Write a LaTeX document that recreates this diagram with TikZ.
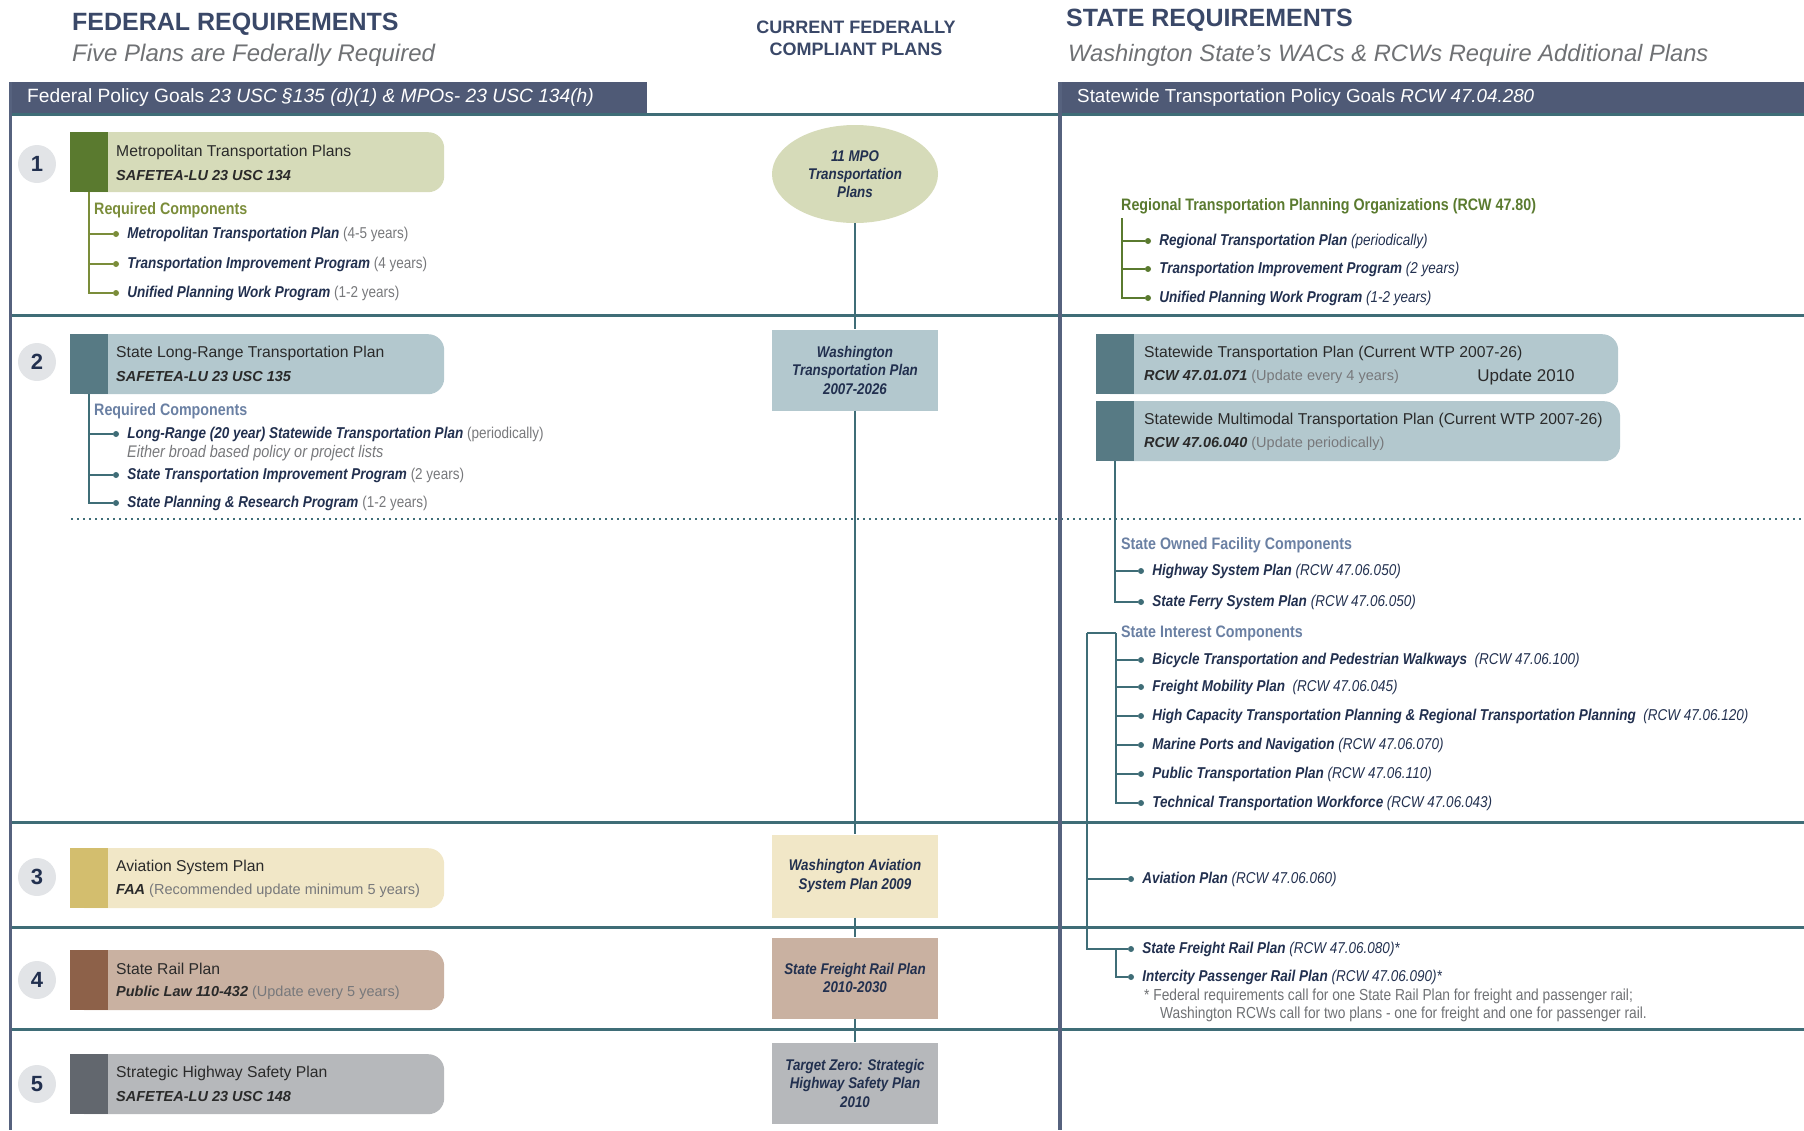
\documentclass[tikz,border=0pt]{standalone}
\usepackage{fontspec}
\setmainfont{Liberation Sans}
\newfontfamily\condfont[FakeStretch=0.86]{Liberation Sans}
\usepackage{tikz}
\usetikzlibrary{shapes.geometric,positioning}

\definecolor{navy}{HTML}{22304F}
\definecolor{titleblue}{HTML}{3A4868}
\definecolor{subgray}{HTML}{6F7174}
\definecolor{barslate}{HTML}{4F5A76}
\definecolor{lineslate}{HTML}{56627E}
\definecolor{rowteal}{HTML}{3F6D77}
\definecolor{compgreen}{HTML}{7B8D3A}
\definecolor{compblue}{HTML}{6A80A3}
\definecolor{mpostrip}{HTML}{5A7A2F}
\definecolor{mpofill}{HTML}{D6DBB9}
\definecolor{wtpstrip}{HTML}{577A84}
\definecolor{wtpfill}{HTML}{B3C8CE}
\definecolor{avistrip}{HTML}{D3BE6E}
\definecolor{avifill}{HTML}{F1E7C7}
\definecolor{railstrip}{HTML}{8D6149}
\definecolor{railfill}{HTML}{C9B1A1}
\definecolor{safestrip}{HTML}{62676E}
\definecolor{safefill}{HTML}{B6B8BB}
\definecolor{numfill}{HTML}{E2E4E7}
\definecolor{boxtext}{HTML}{2A2A2A}
\definecolor{parengray}{HTML}{77787B}

\newcommand{\fsz}[2]{\fontsize{#1}{#2}\selectfont}
\newcommand{\fedItem}[2]{{\bfseries\itshape #1} {\color{parengray}#2}}
\newcommand{\stItem}[2]{{\bfseries #1} #2}
\newcommand{\boxRef}[2]{{\bfseries\itshape #1} {\color{parengray}#2}}

\tikzset{
  planbox/.style={anchor=north west, minimum width=374, minimum height=60,
    rounded corners=16, inner sep=0},
  stripbox/.style={anchor=north west, minimum width=38, minimum height=60, inner sep=0},
  boxtitle/.style={anchor=west, inner sep=0, text=boxtext, font=\fsz{15.7}{18}},
  boxsub/.style={anchor=west, inner sep=0, text=boxtext, font=\fsz{14.5}{16}},
  numdisc/.style={circle, fill=numfill, minimum size=38, inner sep=0, text=navy,
    font=\bfseries\fsz{22}{24}},
  midbox/.style={minimum width=166, inner sep=0, align=center, text=navy,
    font=\condfont\bfseries\itshape\fsz{15.5}{18.5}},
  comphead/.style={anchor=west, inner sep=0, font=\condfont\bfseries\fsz{16.6}{20}},
  item/.style={anchor=west, inner sep=0, text=navy, font=\condfont\fsz{15.7}{17}},
  stitem/.style={item, font=\condfont\itshape\fsz{15.7}{17}},
  dot/.style={circle, minimum size=6, inner sep=0},
  branch/.style={line width=1.6},
  rowline/.style={rowteal, line width=3},
}

\begin{document}
\begin{tikzpicture}[x=1pt, y=-1pt]
\useasboundingbox (0,0) rectangle (1804,1130);

% headings
\node [anchor=west, inner sep=0, text=titleblue, font=\bfseries\fsz{25}{28}] (fedtitle) at (72,24) {FEDERAL REQUIREMENTS};
\node [anchor=west, inner sep=0, text=subgray, font=\itshape\fsz{24}{26}] (fedsub) at (72,55) {Five Plans are Federally Required};
\node [align=center, inner sep=0, text=titleblue, font=\bfseries\fsz{18}{22}] (midtitle) at (856,38) {CURRENT FEDERALLY\\COMPLIANT PLANS};
\node [anchor=west, inner sep=0, text=titleblue, font=\bfseries\fsz{25}{28}] (sttitle) at (1066,20) {STATE REQUIREMENTS};
\node [anchor=west, inner sep=0, text=subgray, font=\itshape\fsz{23.7}{26}] (stsub) at (1068,55) {Washington State's WACs \& RCWs Require Additional Plans};

% header bars
\fill [barslate] (9,82) rectangle (647,113);
\fill [barslate] (1058,82) rectangle (1804,113);
\node [anchor=west, inner sep=0, text=white, font=\fsz{19.2}{21}] (fedgoals) at (27,98) {Federal Policy Goals \textit{23 USC §135 (d)(1) \& MPOs- 23 USC 134(h)}};
\node [anchor=west, inner sep=0, text=white, font=\fsz{18.8}{21}] (stgoals) at (1077,98) {Statewide Transportation Policy Goals \textit{RCW 47.04.280}};

% grid
\draw [rowline] (10,114) -- (1804,114);
\draw [rowline] (10,315) -- (1804,315);
\draw [rowline] (10,822) -- (1804,822);
\draw [rowline] (10,927) -- (1804,927);
\draw [rowline] (10,1029) -- (1804,1029);
\draw [rowteal, line width=2, dash pattern=on 2pt off 4pt] (71,519) -- (1804,519);
\draw [lineslate, line width=3] (10,82) -- (10,1130);
\draw [lineslate, line width=4] (1060,82) -- (1060,1130);

% row 1
\node [numdisc] (num1) at (37,164) {1};
\node [planbox, fill=mpofill] (mtp) at (70,132) {};
\node [stripbox, fill=mpostrip] (mtpstrip) at (70,132) {};
\node [boxtitle] (mtptitle) at (116,152) {Metropolitan Transportation Plans};
\node [boxsub] (mtpsub) at (116,176) {\textbf{\textit{SAFETEA-LU 23 USC 134}}};
\node [comphead, text=compgreen] (mtpreq) at (94,210) {Required Components};
\node [dot, fill=compgreen] (mtpd1) at (116,234) {};
\node [dot, fill=compgreen] (mtpd2) at (116,264) {};
\node [dot, fill=compgreen] (mtpd3) at (116,293) {};
\node [item, right=8pt of mtpd1] (mtpi1) {\fedItem{Metropolitan Transportation Plan}{(4-5 years)}};
\node [item, right=8pt of mtpd2] (mtpi2) {\fedItem{Transportation Improvement Program}{(4 years)}};
\node [item, right=8pt of mtpd3] (mtpi3) {\fedItem{Unified Planning Work Program}{(1-2 years)}};
\draw [branch, compgreen] (mtpstrip.south) |- (mtpd1);
\draw [branch, compgreen] (mtpstrip.south) |- (mtpd2);
\draw [branch, compgreen] (mtpstrip.south) |- (mtpd3);

% row 2
\node [numdisc] (num2) at (37,362) {2};
\node [planbox, fill=wtpfill] (slrtp) at (70,334) {};
\node [stripbox, fill=wtpstrip] (slrtpstrip) at (70,334) {};
\node [boxtitle] (slrtptitle) at (116,353) {State Long-Range Transportation Plan};
\node [boxsub] (slrtpsub) at (116,377) {\textbf{\textit{SAFETEA-LU 23 USC 135}}};
\node [comphead, text=compblue] (slrtpreq) at (94,411) {Required Components};
\node [dot, fill=rowteal] (slrtpd1) at (116,434) {};
\node [dot, fill=rowteal] (slrtpd2) at (116,475) {};
\node [dot, fill=rowteal] (slrtpd3) at (116,503) {};
\node [item, right=8pt of slrtpd1] (slrtpi1) {\fedItem{Long-Range (20 year) Statewide Transportation Plan}{(periodically)}};
\node [item, text=parengray, font=\condfont\itshape\fsz{16.8}{18}] (slrtpnote) at (127,453) {Either broad based policy or project lists};
\node [item, right=8pt of slrtpd2] (slrtpi2) {\fedItem{State Transportation Improvement Program}{(2 years)}};
\node [item, right=8pt of slrtpd3] (slrtpi3) {\fedItem{State Planning \& Research Program}{(1-2 years)}};
\draw [branch, rowteal] (slrtpstrip.south) |- (slrtpd1);
\draw [branch, rowteal] (slrtpstrip.south) |- (slrtpd2);
\draw [branch, rowteal] (slrtpstrip.south) |- (slrtpd3);

% rows 3 to 5
\node [numdisc] (num3) at (37,877) {3};
\node [planbox, fill=avifill] (asp) at (70,848) {};
\node [stripbox, fill=avistrip] (aspstrip) at (70,848) {};
\node [boxtitle] (asptitle) at (116,867) {Aviation System Plan};
\node [boxsub] (aspsub) at (116,891) {\boxRef{FAA}{(Recommended update minimum 5 years)}};

\node [numdisc] (num4) at (37,980) {4};
\node [planbox, fill=railfill] (srp) at (70,950) {};
\node [stripbox, fill=railstrip] (srpstrip) at (70,950) {};
\node [boxtitle] (srptitle) at (116,969) {State Rail Plan};
\node [boxsub] (srpsub) at (116,993) {\boxRef{Public Law 110-432}{(Update every 5 years)}};

\node [numdisc] (num5) at (37,1084) {5};
\node [planbox, fill=safefill] (shsp) at (70,1054) {};
\node [stripbox, fill=safestrip] (shspstrip) at (70,1054) {};
\node [boxtitle] (shsptitle) at (116,1073) {Strategic Highway Safety Plan};
\node [boxsub] (shspsub) at (116,1096) {\textbf{\textit{SAFETEA-LU 23 USC 148}}};

% current plans
\node [ellipse, fill=mpofill, minimum width=166, minimum height=98, inner sep=0, align=center, text=navy,
  font=\condfont\bfseries\itshape\fsz{15.5}{18}] (mpoplans) at (855,174) {11 MPO\\Transportation\\Plans};
\node [midbox, fill=wtpfill, minimum height=81] (wtpplan) at (855,370) {Washington\\Transportation Plan\\2007-2026};
\node [midbox, fill=avifill, minimum height=83] (aviplan) at (855,876) {Washington Aviation\\System Plan 2009};
\node [midbox, fill=railfill, minimum height=81] (railplan) at (855,978) {State Freight Rail Plan\\2010-2030};
\node [midbox, fill=safefill, minimum height=81] (safeplan) at (855,1083) {Target Zero: Strategic\\Highway Safety Plan\\2010};
\draw [rowteal, line width=1.5] (mpoplans.south) -- (wtpplan.north);
\draw [rowteal, line width=1.5] (wtpplan.south) -- (aviplan.north);
\draw [rowteal, line width=1.5] (aviplan.south) -- (railplan.north);
\draw [rowteal, line width=1.5] (railplan.south) -- (safeplan.north);

% state: regional organizations
\node [comphead, text=mpostrip] (rtpo) at (1121,206) {Regional Transportation Planning Organizations (RCW 47.80)};
\coordinate (rtpotop) at (1122,218);
\node [dot, fill=mpostrip] (rtpod1) at (1148,241) {};
\node [dot, fill=mpostrip] (rtpod2) at (1148,269) {};
\node [dot, fill=mpostrip] (rtpod3) at (1148,298) {};
\node [stitem, right=8pt of rtpod1] (rtpoi1) {\stItem{Regional Transportation Plan}{(periodically)}};
\node [stitem, right=8pt of rtpod2] (rtpoi2) {\stItem{Transportation Improvement Program}{(2 years)}};
\node [stitem, right=8pt of rtpod3] (rtpoi3) {\stItem{Unified Planning Work Program}{(1-2 years)}};
\draw [branch, mpostrip] (rtpotop) |- (rtpod1);
\draw [branch, mpostrip] (rtpotop) |- (rtpod2);
\draw [branch, mpostrip] (rtpotop) |- (rtpod3);

% state: statewide plans
\node [planbox, minimum width=522, fill=wtpfill] (swtp) at (1096,334) {};
\node [stripbox, fill=wtpstrip] (swtpstrip) at (1096,334) {};
\node [boxtitle] (swtptitle) at (1144,353) {Statewide Transportation Plan (Current WTP 2007-26)};
\node [boxsub] (swtpsub) at (1144,377) {\boxRef{RCW 47.01.071}{(Update every 4 years)}};
\node [inner sep=0, text=boxtext, font=\fsz{17}{19}] (swtpupd) at (1526,377) {Update 2010};
\node [planbox, minimum width=524, fill=wtpfill] (smtp) at (1096,401) {};
\node [stripbox, fill=wtpstrip] (smtpstrip) at (1096,401) {};
\node [boxtitle] (smtptitle) at (1144,420) {Statewide Multimodal Transportation Plan (Current WTP 2007-26)};
\node [boxsub] (smtpsub) at (1144,444) {\boxRef{RCW 47.06.040}{(Update periodically)}};

% state: owned facilities
\node [comphead, text=compblue] (owned) at (1121,545) {State Owned Facility Components};
\node [dot, fill=rowteal] (ownd1) at (1141,571) {};
\node [dot, fill=rowteal] (ownd2) at (1141,602) {};
\node [stitem, right=8pt of ownd1] (owni1) {\stItem{Highway System Plan}{(RCW 47.06.050)}};
\node [stitem, right=8pt of ownd2] (owni2) {\stItem{State Ferry System Plan}{(RCW 47.06.050)}};
\draw [branch, rowteal] (smtpstrip.south) |- (ownd1);
\draw [branch, rowteal] (smtpstrip.south) |- (ownd2);

% state: interest components
\node [comphead, text=compblue] (interest) at (1121,633) {State Interest Components};
\coordinate (intcorner) at (1087,633);
\coordinate (inttop) at (1116,633);
\node [dot, fill=rowteal] (intd1) at (1141,660) {};
\node [dot, fill=rowteal] (intd2) at (1141,687) {};
\node [dot, fill=rowteal] (intd3) at (1141,716) {};
\node [dot, fill=rowteal] (intd4) at (1141,745) {};
\node [dot, fill=rowteal] (intd5) at (1141,774) {};
\node [dot, fill=rowteal] (intd6) at (1141,803) {};
\node [stitem, right=8pt of intd1] (inti1) {\stItem{Bicycle Transportation and Pedestrian Walkways}{~(RCW 47.06.100)}};
\node [stitem, right=8pt of intd2] (inti2) {\stItem{Freight Mobility Plan}{~(RCW 47.06.045)}};
\node [stitem, right=8pt of intd3] (inti3) {\stItem{High Capacity Transportation Planning \& Regional Transportation Planning}{~(RCW 47.06.120)}};
\node [stitem, right=8pt of intd4] (inti4) {\stItem{Marine Ports and Navigation}{(RCW 47.06.070)}};
\node [stitem, right=8pt of intd5] (inti5) {\stItem{Public Transportation Plan}{(RCW 47.06.110)}};
\node [stitem, right=8pt of intd6] (inti6) {\stItem{Technical Transportation Workforce}{(RCW 47.06.043)}};
\draw [branch, rowteal] (intcorner) -- (inttop);
\draw [branch, rowteal] (inttop) |- (intd1);
\draw [branch, rowteal] (inttop) |- (intd2);
\draw [branch, rowteal] (inttop) |- (intd3);
\draw [branch, rowteal] (inttop) |- (intd4);
\draw [branch, rowteal] (inttop) |- (intd5);
\draw [branch, rowteal] (inttop) |- (intd6);

% state: aviation and rail
\node [dot, fill=rowteal] (avid) at (1131,879) {};
\node [stitem, right=8pt of avid] (avii) {\stItem{Aviation Plan}{(RCW 47.06.060)}};
\node [dot, fill=rowteal] (frtd) at (1131,949) {};
\node [dot, fill=rowteal] (icpd) at (1131,977) {};
\coordinate (railfork) at (1116,949);
\node [stitem, right=8pt of frtd] (frti) {\stItem{State Freight Rail Plan}{(RCW 47.06.080)*}};
\node [stitem, right=8pt of icpd] (icpi) {\stItem{Intercity Passenger Rail Plan}{(RCW 47.06.090)*}};
\draw [branch, rowteal] (intcorner) |- (avid);
\draw [branch, rowteal] (intcorner) |- (frtd);
\draw [branch, rowteal] (railfork) |- (icpd);
\node [item, text=subgray, font=\condfont\fsz{16}{18}] (railnote1) at (1144,996) {* Federal requirements call for one State Rail Plan for freight and passenger rail;};
\node [item, text=subgray, font=\condfont\fsz{16}{18}] (railnote2) at (1160,1014) {Washington RCWs call for two plans - one for freight and one for passenger rail.};
\end{tikzpicture}
\end{document}
